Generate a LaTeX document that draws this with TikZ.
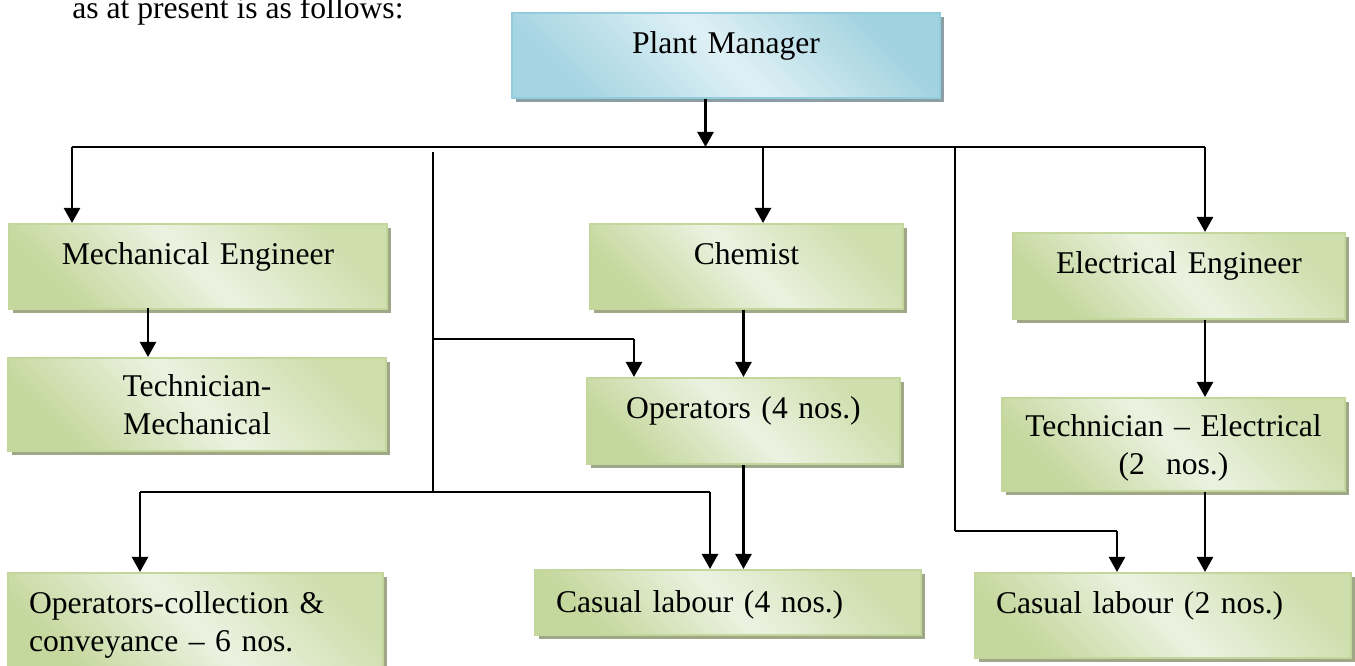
\documentclass[tikz,border=0pt]{standalone}
\usepackage{fontspec}
\setmainfont{Liberation Serif}
\usetikzlibrary{arrows.meta,shadows}

\definecolor{boxline}{RGB}{195,214,155}
\definecolor{greendark}{RGB}{196,215,156}
\definecolor{greenlight}{RGB}{236,242,225}
\definecolor{greenmid}{RGB}{206,222,172}
\definecolor{shadowgreen}{RGB}{160,167,135}
\definecolor{blueline}{RGB}{147,205,221}
\definecolor{bluedark}{RGB}{166,213,226}
\definecolor{bluelight}{RGB}{223,240,245}
\definecolor{bluemid}{RGB}{160,210,223}
\definecolor{shadowblue}{RGB}{138,158,164}

\tikzset{
  chartbox/.style={anchor=north, inner sep=0pt, line width=1.1pt, text height=0.82cm, align=center},
  greenbox/.style={chartbox, draw=boxline, bottom color=greendark, top color=greenmid,
    middle color=greenlight, shading angle=-45,
    drop shadow={shadow xshift=0.07cm, shadow yshift=-0.09cm, fill=shadowgreen, opacity=1}},
  bluebox/.style={chartbox, draw=blueline, bottom color=bluedark, top color=bluemid,
    middle color=bluelight, shading angle=-45,
    drop shadow={shadow xshift=0.07cm, shadow yshift=-0.09cm, fill=shadowblue, opacity=1}},
  leftbox/.style={greenbox, align=left, inner xsep=0.42cm},
  twoline/.style={text height=0.77cm},
  link/.style={line width=0.9pt},
  arr/.style={line width=1.4pt, -{Triangle[length=0.3cm, width=0.32cm]}},
}

\begin{document}
\begin{tikzpicture}[every node/.style={font=\fontsize{18}{21.4}\selectfont}]
    \useasboundingbox (0,0) rectangle (27.1,13.32);

    % lead-in line of the page
    \node[anchor=base west, inner sep=0pt] (intro) at (1.44,12.94) {as at present is as follows:};

    % Plant Manager
    \node[bluebox, text width=8.56cm, text depth=0.88cm] (pm) at (14.52,13.08) {Plant Manager};

    % second row
    \node[greenbox, text width=7.56cm, text depth=0.88cm] (mech) at (3.96,8.86) {Mechanical Engineer};
    \node[greenbox, text width=6.26cm, text depth=0.88cm] (chem) at (14.93,8.86) {Chemist};
    \node[greenbox, text width=6.64cm, text depth=0.90cm] (ee) at (23.58,8.68) {Electrical Engineer};

    % third row
    \node[greenbox, twoline, text width=7.56cm, text depth=1.09cm] (tm) at (3.94,6.18) {Technician-\\Mechanical};
    \node[greenbox, text width=6.26cm, text depth=0.90cm] (ops) at (14.87,5.78) {Operators (4 nos.)};
    \node[greenbox, twoline, text width=6.86cm, text depth=1.09cm] (te) at (23.47,5.38) {Technician -- Electrical\\(2\ \ nos.)};

    % bottom row
    \node[leftbox, text width=6.66cm, text depth=1.18cm] (oc) at (3.91,1.88) {Operators-collection \&\\conveyance -- 6 nos.};
    \node[leftbox, text width=6.88cm, text height=0.86cm, text depth=0.44cm] (cl4) at (14.56,1.94) {Casual labour (4 nos.)};
    \node[leftbox, text width=6.68cm, text depth=0.88cm] (cl2) at (23.26,1.88) {Casual labour (2 nos.)};

    % bus and trunk points
    \coordinate (bus) at (14.11,10.38);
    \coordinate (busL) at (1.44,10.38);
    \coordinate (busR) at (24.10,10.38);
    \coordinate (chemdrop) at (15.26,10.38);
    \coordinate (trunkT) at (8.66,10.28);
    \coordinate (trunkB) at (8.66,3.48);
    \coordinate (opsfeed) at (8.66,6.54);
    \coordinate (opsdrop) at (12.68,6.54);
    \coordinate (rtrunkT) at (19.10,10.38);
    \coordinate (rtrunkB) at (19.10,2.70);
    \coordinate (mechout) at (2.96,7.16);
    \coordinate (ocdrop) at (2.80,3.48);
    \coordinate (cl4drop) at (14.20,3.48);
    \coordinate (cl2drop) at (22.34,2.70);

    % connectors
    \draw[arr] (pm.south -| bus) -- (bus);
    \draw[link] (busL) -- (busR);
    \draw[arr] (busL) -- (busL |- mech.north);
    \draw[arr] (chemdrop) -- (chemdrop |- chem.north);
    \draw[arr] (busR) -- (busR |- ee.north);
    \draw[link] (trunkT) -- (trunkB);
    \draw[link] (rtrunkT) -- (rtrunkB);

    \draw[arr] (mechout) -- (mechout |- tm.north);
    \draw[arr] (chem.south -| ops.north) -- (ops.north);
    \draw[link] (opsfeed) -- (opsdrop);
    \draw[arr] (opsdrop) -- (opsdrop |- ops.north);
    \draw[arr] (ee.south -| busR) -- (te.north -| busR);

    \draw[arr] (ops.south) -- (ops.south |- cl4.north);
    \draw[link] (trunkB) -- (ocdrop);
    \draw[arr] (ocdrop) -- (ocdrop |- oc.north);
    \draw[link] (trunkB) -- (cl4drop);
    \draw[arr] (cl4drop) -- (cl4drop |- cl4.north);
    \draw[link] (rtrunkB) -- (cl2drop);
    \draw[arr] (cl2drop) -- (cl2drop |- cl2.north);
    \draw[arr] (te.south -| busR) -- (cl2.north -| busR);
\end{tikzpicture}
\end{document}
